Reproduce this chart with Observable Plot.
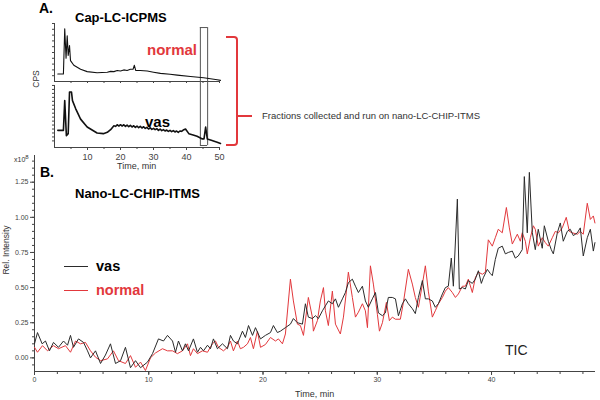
<!DOCTYPE html>
<html><head><meta charset="utf-8">
<script src="https://cdn.jsdelivr.net/npm/d3@7"></script>
<script src="https://cdn.jsdelivr.net/npm/@observablehq/plot@0.6"></script>
<style>
body{margin:0;background:#fff;}
#root{position:relative;width:600px;height:400px;overflow:hidden;font-family:"Liberation Sans",Arial,sans-serif;background:#fff;}
#root svg{position:absolute;left:0;top:0;background:transparent;overflow:visible;}
.t{position:absolute;white-space:nowrap;line-height:1;transform:translateY(-50%);}
.rot{position:absolute;white-space:nowrap;line-height:1;transform:translate(-50%,-50%) rotate(-90deg);}
.b{font-weight:bold;}
</style></head><body><div id="root"></div>
<script>
// ---------- Panel B: Nano-LC-CHIP-ITMS TIC (relative intensity, x10^8) ----------
const vasTime = [0,0.26,0.67,0.96,1.31,1.66,2.10,2.54,2.89,3.15,
 3.41,3.85,4.29,4.64,4.90,5.34,5.78,6.21,6.65,7.09,
 7.53,7.96,8.40,8.84,9.28,9.89,10.33,10.85,11.29,11.64,
 12.08,12.34,12.60,12.95,13.21,13.48,13.91,14.26,14.53,14.79,
 15.14,15.40,15.66,16.01,16.45,16.89,17.15,17.41,17.76,18.20,
 18.46,18.73,19.08,19.34,19.78,20.21,20.65,20.91,21.26,21.52,
 21.96,22.40,22.66,23.01,23.45,23.71,23.97,24.32,24.59,24.85,
 25.20,25.46,25.72,26.07,26.34,26.60,26.95,27.21,27.47,27.82,
 28.09,28.35,28.70,28.96,29.22,29.57,29.84,30.10,30.45,30.71,
 30.97,31.32,31.59,31.85,32.20,32.46,32.72,33.07,33.33,33.60,
 33.95,34.21,34.47,34.82,35.08,35.35,35.70,35.96,36.22,36.48,
 36.66,37.01,37.18,37.45,37.71,37.97,38.32,38.58,38.85,39.11,
 39.28,39.63,39.90,40.07,40.33,40.59,40.94,41.21,41.47,41.82,
 42.08,42.34,42.69,42.87,43.13,43.31,43.57,43.83,44.09,44.44,
 44.62,44.97,45.23,45.41,45.76,46.02,46.28,46.63,46.89,47.16,
 47.51,47.77,48.03,48.38,48.65,48.91,49.05];
const vasIntensity = [0.10,0.18,0.10,0.12,0.05,0.11,0.075,0.12,0.09,0.16,
 0.075,0.135,0.11,0.05,0.00,0.05,-0.04,0.02,0.10,-0.04,
 -0.02,0.075,-0.07,-0.02,-0.07,-0.03,0.03,0.135,0.12,0.16,
 0.12,0.04,0.12,0.05,0.10,0.05,0.135,0.04,0.075,0.05,
 0.09,0.065,0.135,0.065,0.10,0.065,0.16,0.12,0.10,0.19,
 0.145,0.23,0.16,0.215,0.135,0.16,0.18,0.23,0.18,0.19,
 0.215,0.24,0.28,0.25,0.24,0.385,0.29,0.28,0.30,0.28,
 0.335,0.37,0.405,0.385,0.42,0.36,0.42,0.465,0.535,0.56,
 0.51,0.465,0.51,0.405,0.36,0.42,0.465,0.32,0.30,0.32,
 0.43,0.43,0.42,0.30,0.385,0.42,0.385,0.35,0.315,0.43,
 0.55,0.42,0.42,0.405,0.36,0.385,0.455,0.50,0.51,0.71,
 0.51,1.13,0.49,0.50,0.49,0.55,0.53,0.56,0.62,0.53,
 0.57,0.63,0.60,0.585,0.70,0.78,0.795,0.74,0.75,0.76,
 0.71,0.725,0.77,1.29,0.89,1.32,0.89,0.77,0.915,0.78,
 0.94,0.83,0.77,0.74,0.89,0.96,0.83,0.90,0.915,0.87,
 0.89,0.925,0.725,0.855,0.915,0.76,0.82];
const normalTime = [0,0.26,0.70,1.14,1.66,2.10,2.71,3.15,3.59,4.03,
 4.46,4.90,5.34,5.78,6.39,6.91,7.35,7.96,8.40,8.84,
 9.28,9.71,10.15,10.59,11.20,11.64,12.08,12.51,12.95,13.39,
 13.65,13.91,14.26,14.70,15.14,15.57,15.84,16.10,16.54,16.89,
 17.15,17.41,17.76,18.02,18.29,18.64,18.90,19.16,19.51,19.78,
 20.21,20.65,21.09,21.35,21.70,21.96,22.40,22.66,23.01,23.27,
 23.54,23.97,24.32,24.41,24.76,25.02,25.29,25.46,25.72,26.07,
 26.34,26.77,27.04,27.30,27.47,27.82,28.09,28.35,28.70,28.96,
 29.14,29.40,29.66,30.01,30.19,30.45,30.80,31.06,31.32,31.59,
 32.02,32.29,32.72,33.07,33.33,33.60,33.95,34.21,34.47,34.82,
 35.08,35.35,35.70,35.96,36.22,36.57,36.84,37.10,37.45,37.71,
 37.97,38.32,38.58,38.85,39.20,39.46,39.72,40.07,40.33,40.59,
 40.94,41.30,41.56,41.82,42.26,42.52,42.69,42.96,43.13,43.40,
 43.66,43.83,44.09,44.44,44.71,44.97,45.32,45.58,45.85,46.19,
 46.54,46.81,47.07,47.51,47.77,48.03,48.38,48.65,48.91,49.05];
const normalIntensity = [0.075,0.04,0.087,0.05,0.087,0.065,0.087,0.04,0.12,0.10,
 0.11,0.05,0.005,-0.02,-0.007,0.05,-0.02,-0.04,0.016,-0.067,
 -0.03,-0.09,0.00,0.035,0.065,0.05,0.05,0.03,0.05,0.10,
 0.016,0.065,0.03,0.05,0.04,0.10,0.12,0.075,0.05,0.075,
 0.12,0.05,0.12,0.065,0.075,0.10,0.145,0.065,0.19,0.075,
 0.095,0.145,0.12,0.135,0.10,0.17,0.56,0.405,0.24,0.23,
 0.16,0.43,0.29,0.19,0.265,0.405,0.50,0.335,0.23,0.475,
 0.24,0.17,0.29,0.475,0.61,0.43,0.29,0.325,0.385,0.335,
 0.215,0.655,0.525,0.31,0.19,0.25,0.395,0.265,0.29,0.275,
 0.275,0.395,0.63,0.525,0.43,0.36,0.525,0.655,0.475,0.29,
 0.335,0.385,0.43,0.475,0.50,0.465,0.43,0.455,0.51,0.51,
 0.56,0.465,0.57,0.61,0.595,0.61,0.84,0.795,0.855,0.915,
 0.89,1.07,0.925,0.81,0.88,0.83,0.89,0.83,0.74,0.855,
 0.94,0.915,0.795,0.855,0.82,0.795,0.855,0.90,0.89,0.925,
 1.00,0.90,0.89,0.88,0.90,0.88,1.10,0.985,1.01,0.96];
const xTicksB = [0,10,20,30,40];
const yTicksB = [0,0.25,0.5,0.75,1.0,1.25];

// ---------- Panel A: Cap-LC-ICPMS (CPS, relative) ----------
const icpNormalTime = [1,2.7,3.1,3.5,3.85,4.15,4.55,4.85,5.85,7.9,
 9.9,12.9,16,17,18,19,20,21,22,23,
 23.8,24.2,24.6,26,28.1,30,32.1,35,37.2,41.2,
 45.2,49.3,50.3];
const icpNormalCps = [0.13,0.13,0.91,0.40,0.79,0.45,0.62,0.36,0.28,0.21,
 0.17,0.15,0.16,0.175,0.17,0.19,0.18,0.20,0.19,0.21,
 0.21,0.28,0.19,0.19,0.18,0.16,0.14,0.125,0.11,0.086,
 0.064,0.03,0.02];
const icpVasTime = [1,2.7,3.1,3.6,4.15,4.55,5.15,5.45,6.4,7.9,
 9.9,12.9,14.8,16,17,17.5,18,18.5,19,19.5,
 20,20.5,21,21.5,22,22.5,23,23.5,24,24.5,
 25,25.5,26,26.5,27,27.5,28,28.5,29,29.5,
 30,30.5,31,31.5,32,32.5,33,33.5,34,34.5,
 35,35.5,36,36.5,37,37.5,38,38.5,39,39.7,
 40.7,42,43.2,44.8,45.3,45.8,46.3,47.5,49.3,50.3];
const icpVasCps = [0.26,0.26,0.71,0.18,0.21,0.84,0.84,0.71,0.59,0.43,
 0.31,0.22,0.21,0.23,0.27,0.30,0.33,0.32,0.345,0.325,
 0.345,0.325,0.345,0.32,0.34,0.315,0.335,0.31,0.33,0.305,
 0.325,0.30,0.32,0.295,0.315,0.29,0.305,0.28,0.30,0.275,
 0.29,0.27,0.285,0.26,0.28,0.255,0.27,0.25,0.265,0.245,
 0.26,0.24,0.255,0.235,0.25,0.23,0.25,0.245,0.265,0.28,
 0.21,0.19,0.17,0.13,0.13,0.31,0.13,0.11,0.08,0.06];
const xTicksA = [10,20,30,40,50];
const fractionWindow = [44.2, 46.4];

const BLACK = "#2b2b2b", RED = "#e2383c", AXIS = "#444";
const FONT = "'Liberation Sans', Arial, sans-serif";
const root = document.getElementById("root");
const blank = () => "";

const vasB = vasTime.map((t, i) => ({t, v: vasIntensity[i]}));
const normalB = normalTime.map((t, i) => ({t, v: normalIntensity[i]}));

const yMinB = -0.097, yMaxB = 1.44;
const chartB = Plot.plot({
  width: 600, height: 400,
  marginLeft: 34, marginRight: 5, marginTop: 155, marginBottom: 29,
  style: {background: "transparent", fontFamily: FONT, color: "#333"},
  x: {domain: [0, 49.1], label: null},
  y: {domain: [yMinB, yMaxB], label: null},
  marks: [
    Plot.axisX({ticks: d3.range(0, 49.1, 2), tickSize: 3, tickFormat: blank, color: AXIS}),
    Plot.axisX({ticks: xTicksB, tickSize: 4, tickPadding: 2, fontSize: 7, tickFormat: d => d, color: AXIS}),
    Plot.axisY({ticks: d3.range(-0.05, 1.44, 0.05), tickSize: 2, tickFormat: blank, color: AXIS}),
    Plot.axisY({ticks: yTicksB, tickSize: 4, tickPadding: 2, fontSize: 7, tickFormat: d3.format(".2f"), color: AXIS}),
    Plot.ruleY([yMinB], {stroke: AXIS}),
    Plot.ruleX([0], {stroke: AXIS}),
    Plot.line(normalB, {x: "t", y: "v", stroke: RED, strokeWidth: 1}),
    Plot.line(vasB, {x: "t", y: "v", stroke: BLACK, strokeWidth: 1})
  ]
});
root.appendChild(chartB);

// Panel A, upper trace (normal)
const icpN = icpNormalTime.map((t, i) => ({t, v: icpNormalCps[i]}));
const icpV = icpVasTime.map((t, i) => ({t, v: icpVasCps[i]}));
const chartA1 = Plot.plot({
  width: 230, height: 82,
  marginLeft: 54, marginRight: 10, marginTop: 23, marginBottom: 1,
  style: {background: "transparent", fontFamily: FONT, color: "#222"},
  x: {domain: [0, 50.3], label: null},
  y: {domain: [0, 1], label: null},
  marks: [
    Plot.axisY({ticks: d3.range(0.1, 1.01, 0.1), tickSize: 2, tickFormat: blank, color: AXIS}),
    Plot.axisX({ticks: [5,10,15,20,25,30,35,40,45,50], tickSize: 2, tickFormat: blank, color: AXIS}),
    Plot.ruleX([0], {stroke: AXIS}),
    Plot.ruleY([0], {stroke: AXIS}),
    Plot.ruleX(fractionWindow, {y1: 0, y2: 0.93, stroke: "#555"}),
    Plot.ruleY([0.93], {x1: fractionWindow[0], x2: fractionWindow[1], stroke: "#555"}),
    Plot.line(icpN, {x: "t", y: "v", stroke: "#111", strokeWidth: 1.1})
  ]
});
root.appendChild(chartA1);

// Panel A, lower trace (vas)
const chartA2 = Plot.plot({
  width: 230, height: 175,
  marginLeft: 54, marginRight: 10, marginTop: 81, marginBottom: 28,
  style: {background: "transparent", fontFamily: FONT, color: "#222"},
  x: {domain: [0, 50.3], label: null},
  y: {domain: [0, 1], label: null},
  marks: [
    Plot.axisY({ticks: d3.range(0.1, 0.95, 0.06), tickSize: 2, tickFormat: blank, color: AXIS}),
    Plot.axisX({ticks: [5,15,25,35,45], tickSize: 2, tickFormat: blank, color: AXIS}),
    Plot.axisX({ticks: xTicksA, tickSize: 3, tickPadding: 3, fontSize: 9, tickFormat: d => d, color: AXIS}),
    Plot.ruleX([0], {y1: 0, y2: 0.94, stroke: AXIS}),
    Plot.ruleY([0], {stroke: AXIS}),
    Plot.ruleX(fractionWindow, {y1: 0.03, y2: 1, stroke: "#555"}),
    Plot.ruleY([0.03], {x1: fractionWindow[0], x2: fractionWindow[1], stroke: "#555"}),
    Plot.line(icpV, {x: "t", y: "v", stroke: "#111", strokeWidth: 1.6})
  ]
});
root.appendChild(chartA2);

// ---------- Text and annotations ----------
function addText(html, cls, left, top, style) {
  const d = document.createElement("div");
  d.className = cls;
  d.innerHTML = html;
  d.style.left = left + "px";
  d.style.top = top + "px";
  Object.assign(d.style, style || {});
  root.appendChild(d);
  return d;
}
function addBox(style) {
  const d = document.createElement("div");
  d.style.position = "absolute";
  Object.assign(d.style, style);
  root.appendChild(d);
}
addText("A.", "t b", 39, 8, {fontSize: "14px"});
addText("Cap-LC-ICPMS", "t b", 75, 17, {fontSize: "13px"});
addText("normal", "t b", 147, 49, {fontSize: "15px", color: RED});
addText("vas", "t b", 145, 121, {fontSize: "15px"});
addText("CPS", "rot", 36, 79, {fontSize: "8.5px", color: "#333"});
addText("Time, min", "t", 117, 166, {fontSize: "9px", color: "#333"});

// red bracket
addBox({left: "226px", top: "36px", width: "10px", height: "106px", borderTop: "2px solid " + RED, borderRight: "2px solid " + RED, borderBottom: "2px solid " + RED, borderRadius: "0 4px 4px 0"});
addBox({left: "238px", top: "115px", width: "14px", height: "0px", borderTop: "2px solid " + RED});
addText("Fractions collected and run on nano-LC-CHIP-ITMS", "t", 262, 116, {fontSize: "9.5px", color: "#333"});

addText("x10<sup style='font-size:6px;vertical-align:3px'>8</sup>", "t", 14, 158, {fontSize: "7px", color: "#333"});
addText("B.", "t b", 40, 172, {fontSize: "14px"});
addText("Nano-LC-CHIP-ITMS", "t b", 75, 193, {fontSize: "13px"});
addText("Rel. Intensity", "rot", 6, 250, {fontSize: "8.5px", color: "#333"});

// legend
addBox({left: "64px", top: "266px", width: "24px", height: "0px", borderTop: "1.5px solid " + BLACK});
addText("vas", "t b", 96, 266, {fontSize: "14.5px"});
addBox({left: "64px", top: "290px", width: "24px", height: "0px", borderTop: "1.5px solid " + RED});
addText("normal", "t b", 96, 290, {fontSize: "14.5px", color: RED});

addText("TIC", "t", 505, 350, {fontSize: "14px", color: "#222"});
addText("Time, min", "t", 295, 394, {fontSize: "9px", color: "#333"});
</script>
</body></html>
